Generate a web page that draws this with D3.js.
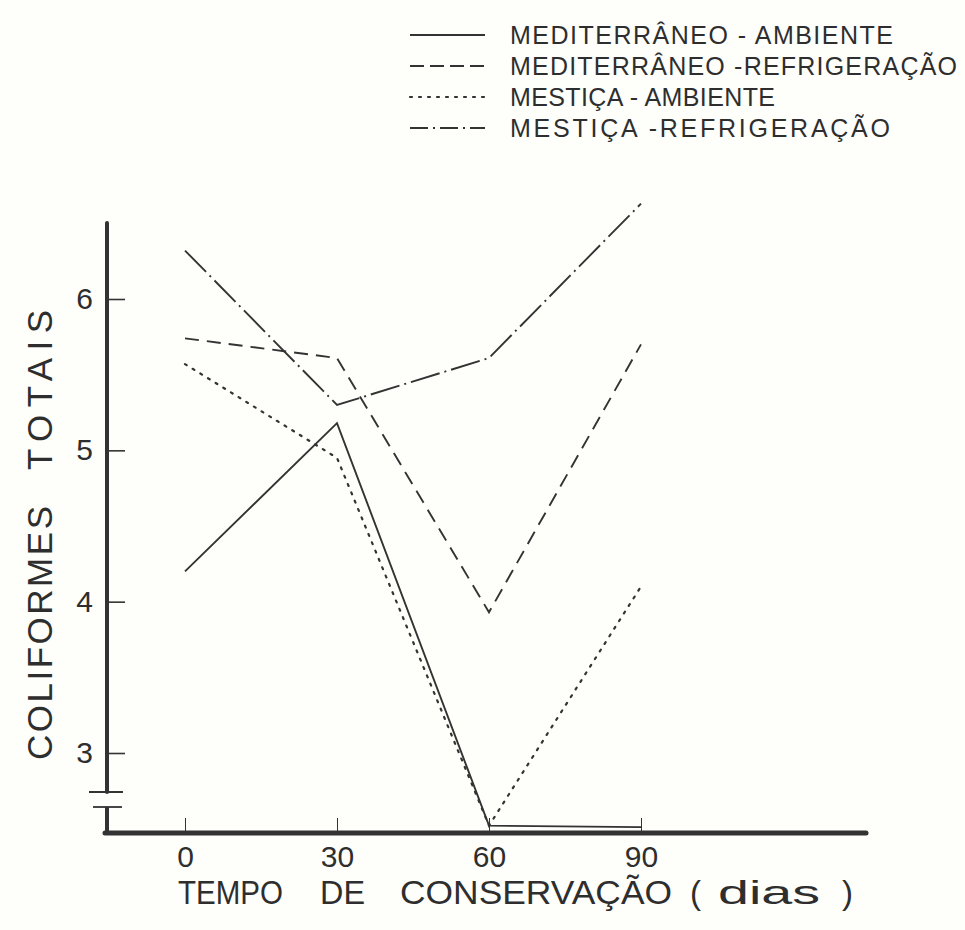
<!DOCTYPE html>
<html>
<head>
<meta charset="utf-8">
<script src="https://cdn.jsdelivr.net/npm/d3@7"></script>
<style>
  body { margin: 0; background: #fefefb; }
  svg { display: block; }
  text { fill: #2e2e2e; font-family: "Liberation Sans", Arial, sans-serif; white-space: pre; }
</style>
</head>
<body>
<div id="chart"></div>
<script>
// data
var days = [0, 30, 60, 90];
var medAmbiente = [4.20, 5.18, 2.52, 2.51];
var medRefrig   = [5.74, 5.61, 3.93, 5.70];
var mesAmbiente = [5.57, 4.95, 2.52, 4.10];
var mesRefrig   = [6.32, 5.30, 5.61, 6.63];
var yTicks = [3, 4, 5, 6];
var xTicks = [0, 30, 60, 90];
var seriesNames = [
  'MEDITERRÂNEO - AMBIENTE',
  'MEDITERRÂNEO -REFRIGERAÇÃO',
  'MESTIÇA - AMBIENTE',
  'MESTIÇA -REFRIGERAÇÃO'
];

var width = 965, height = 930;
var ink = '#333';

// dash pattern per series
var dashes = ['none', '14,8', '2,7', '30,5,2,5'];
var legendLen = [383, 447, 265, 380];

var svg = d3.select('#chart').append('svg')
  .attr('width', width)
  .attr('height', height);

var x = d3.scaleLinear().domain([0, 90]).range([185, 641]);
var y = d3.scaleLinear().domain([3, 6]).range([753, 299]);

var axisX0 = 107, axisY0 = 833;   // corner of the axes
var yTop = 223, xRight = 866;
var breakTop = 792, breakBot = 807;

// ---------- axes ----------
// vertical axis, broken near the bottom
svg.append('line')
  .attr('x1', axisX0).attr('x2', axisX0)
  .attr('y1', yTop).attr('y2', breakTop)
  .attr('stroke', ink).attr('stroke-width', 4).attr('stroke-linecap', 'round');
svg.append('line')
  .attr('x1', axisX0).attr('x2', axisX0)
  .attr('y1', breakBot).attr('y2', axisY0)
  .attr('stroke', ink).attr('stroke-width', 4);
// break marks
svg.append('line')
  .attr('x1', 89).attr('x2', 123).attr('y1', breakTop).attr('y2', breakTop)
  .attr('stroke', ink).attr('stroke-width', 1.8);
svg.append('line')
  .attr('x1', 93).attr('x2', 122).attr('y1', breakBot).attr('y2', breakBot)
  .attr('stroke', ink).attr('stroke-width', 1.8);

// horizontal axis
svg.append('line')
  .attr('x1', axisX0 - 2).attr('x2', xRight)
  .attr('y1', axisY0).attr('y2', axisY0)
  .attr('stroke', ink).attr('stroke-width', 5).attr('stroke-linecap', 'round');

var yAxis = svg.append('g')
  .attr('transform', 'translate(' + axisX0 + ',0)')
  .call(d3.axisLeft(y).tickValues(yTicks).tickSize(-18).tickPadding(14).tickFormat(d3.format('d')));
yAxis.select('.domain').remove();
yAxis.selectAll('.tick line').attr('stroke', ink).attr('stroke-width', 1.6);
yAxis.selectAll('.tick text')
  .style('font-size', '30px')
  .style('font-family', '"Liberation Sans", Arial, sans-serif')
  .attr('fill', '#2e2e2e');

var xAxis = svg.append('g')
  .attr('transform', 'translate(0,' + axisY0 + ')')
  .call(d3.axisBottom(x).tickValues(xTicks).tickSize(-15).tickPadding(13).tickFormat(d3.format('d')));
xAxis.select('.domain').remove();
xAxis.selectAll('.tick line').attr('stroke', ink).attr('stroke-width', 1);
xAxis.selectAll('.tick text')
  .style('font-size', '30px')
  .style('font-family', '"Liberation Sans", Arial, sans-serif')
  .attr('fill', '#2e2e2e');

// axis titles
var xTitle = svg.append('text')
  .attr('y', 904)
  .style('font-size', '33px');
xTitle.append('tspan').attr('x', 178).attr('textLength', 105).attr('lengthAdjust', 'spacingAndGlyphs').text('TEMPO');
xTitle.append('tspan').attr('x', 320).attr('textLength', 45).attr('lengthAdjust', 'spacingAndGlyphs').text('DE');
xTitle.append('tspan').attr('x', 400).attr('textLength', 272).attr('lengthAdjust', 'spacingAndGlyphs').text('CONSERVAÇÃO');
xTitle.append('tspan').attr('x', 690).text('(');
xTitle.append('tspan').attr('x', 718).attr('textLength', 102).attr('lengthAdjust', 'spacingAndGlyphs').text('dias');
xTitle.append('tspan').attr('x', 842).text(')');

var yTitle = svg.append('text')
  .attr('transform', 'translate(52,0) rotate(-90)')
  .style('font-size', '35px');
yTitle.append('tspan').attr('x', -760).attr('textLength', 254).attr('lengthAdjust', 'spacing').text('COLIFORMES');
yTitle.append('tspan').attr('x', -470).attr('textLength', 160).attr('lengthAdjust', 'spacing').text('TOTAIS');

// ---------- series ----------
var allSeries = [medAmbiente, medRefrig, mesAmbiente, mesRefrig];
var line = d3.line()
  .x(function(d, i) { return x(days[i]); })
  .y(function(d) { return y(d); });

svg.selectAll('path.serie')
  .data(allSeries)
  .enter()
  .append('path')
  .attr('class', 'serie')
  .attr('d', line)
  .attr('fill', 'none')
  .attr('stroke', ink)
  .attr('stroke-width', function(d, i) { return i == 2 ? 2.2 : 1.9; })
  .attr('stroke-linecap', function(d, i) { return i == 2 ? 'round' : 'butt'; })
  .attr('stroke-dasharray', function(d, i) { return dashes[i]; });

// ---------- legend ----------
var legend = svg.selectAll('g.legend')
  .data(seriesNames)
  .enter()
  .append('g')
  .attr('class', 'legend')
  .attr('transform', function(d, i) { return 'translate(0,' + (35 + i * 31) + ')'; });

legend.append('line')
  .attr('x1', 410).attr('x2', 485)
  .attr('stroke', ink)
  .attr('stroke-width', function(d, i) { return i == 2 ? 2.2 : 1.9; })
  .attr('stroke-linecap', function(d, i) { return i == 2 ? 'round' : 'butt'; })
  .attr('stroke-dasharray', function(d, i) { return i == 1 ? '14,6' : i == 3 ? '18,5,2,5' : dashes[i]; });

legend.append('text')
  .attr('x', 510).attr('y', 9)
  .attr('textLength', function(d, i) { return legendLen[i]; })
  .attr('lengthAdjust', 'spacing')
  .style('font-size', '25px')
  .style('white-space', 'normal')
  .attr('fill', '#3a3a3a')
  .text(function(d) { return d; });
</script>
</body>
</html>
